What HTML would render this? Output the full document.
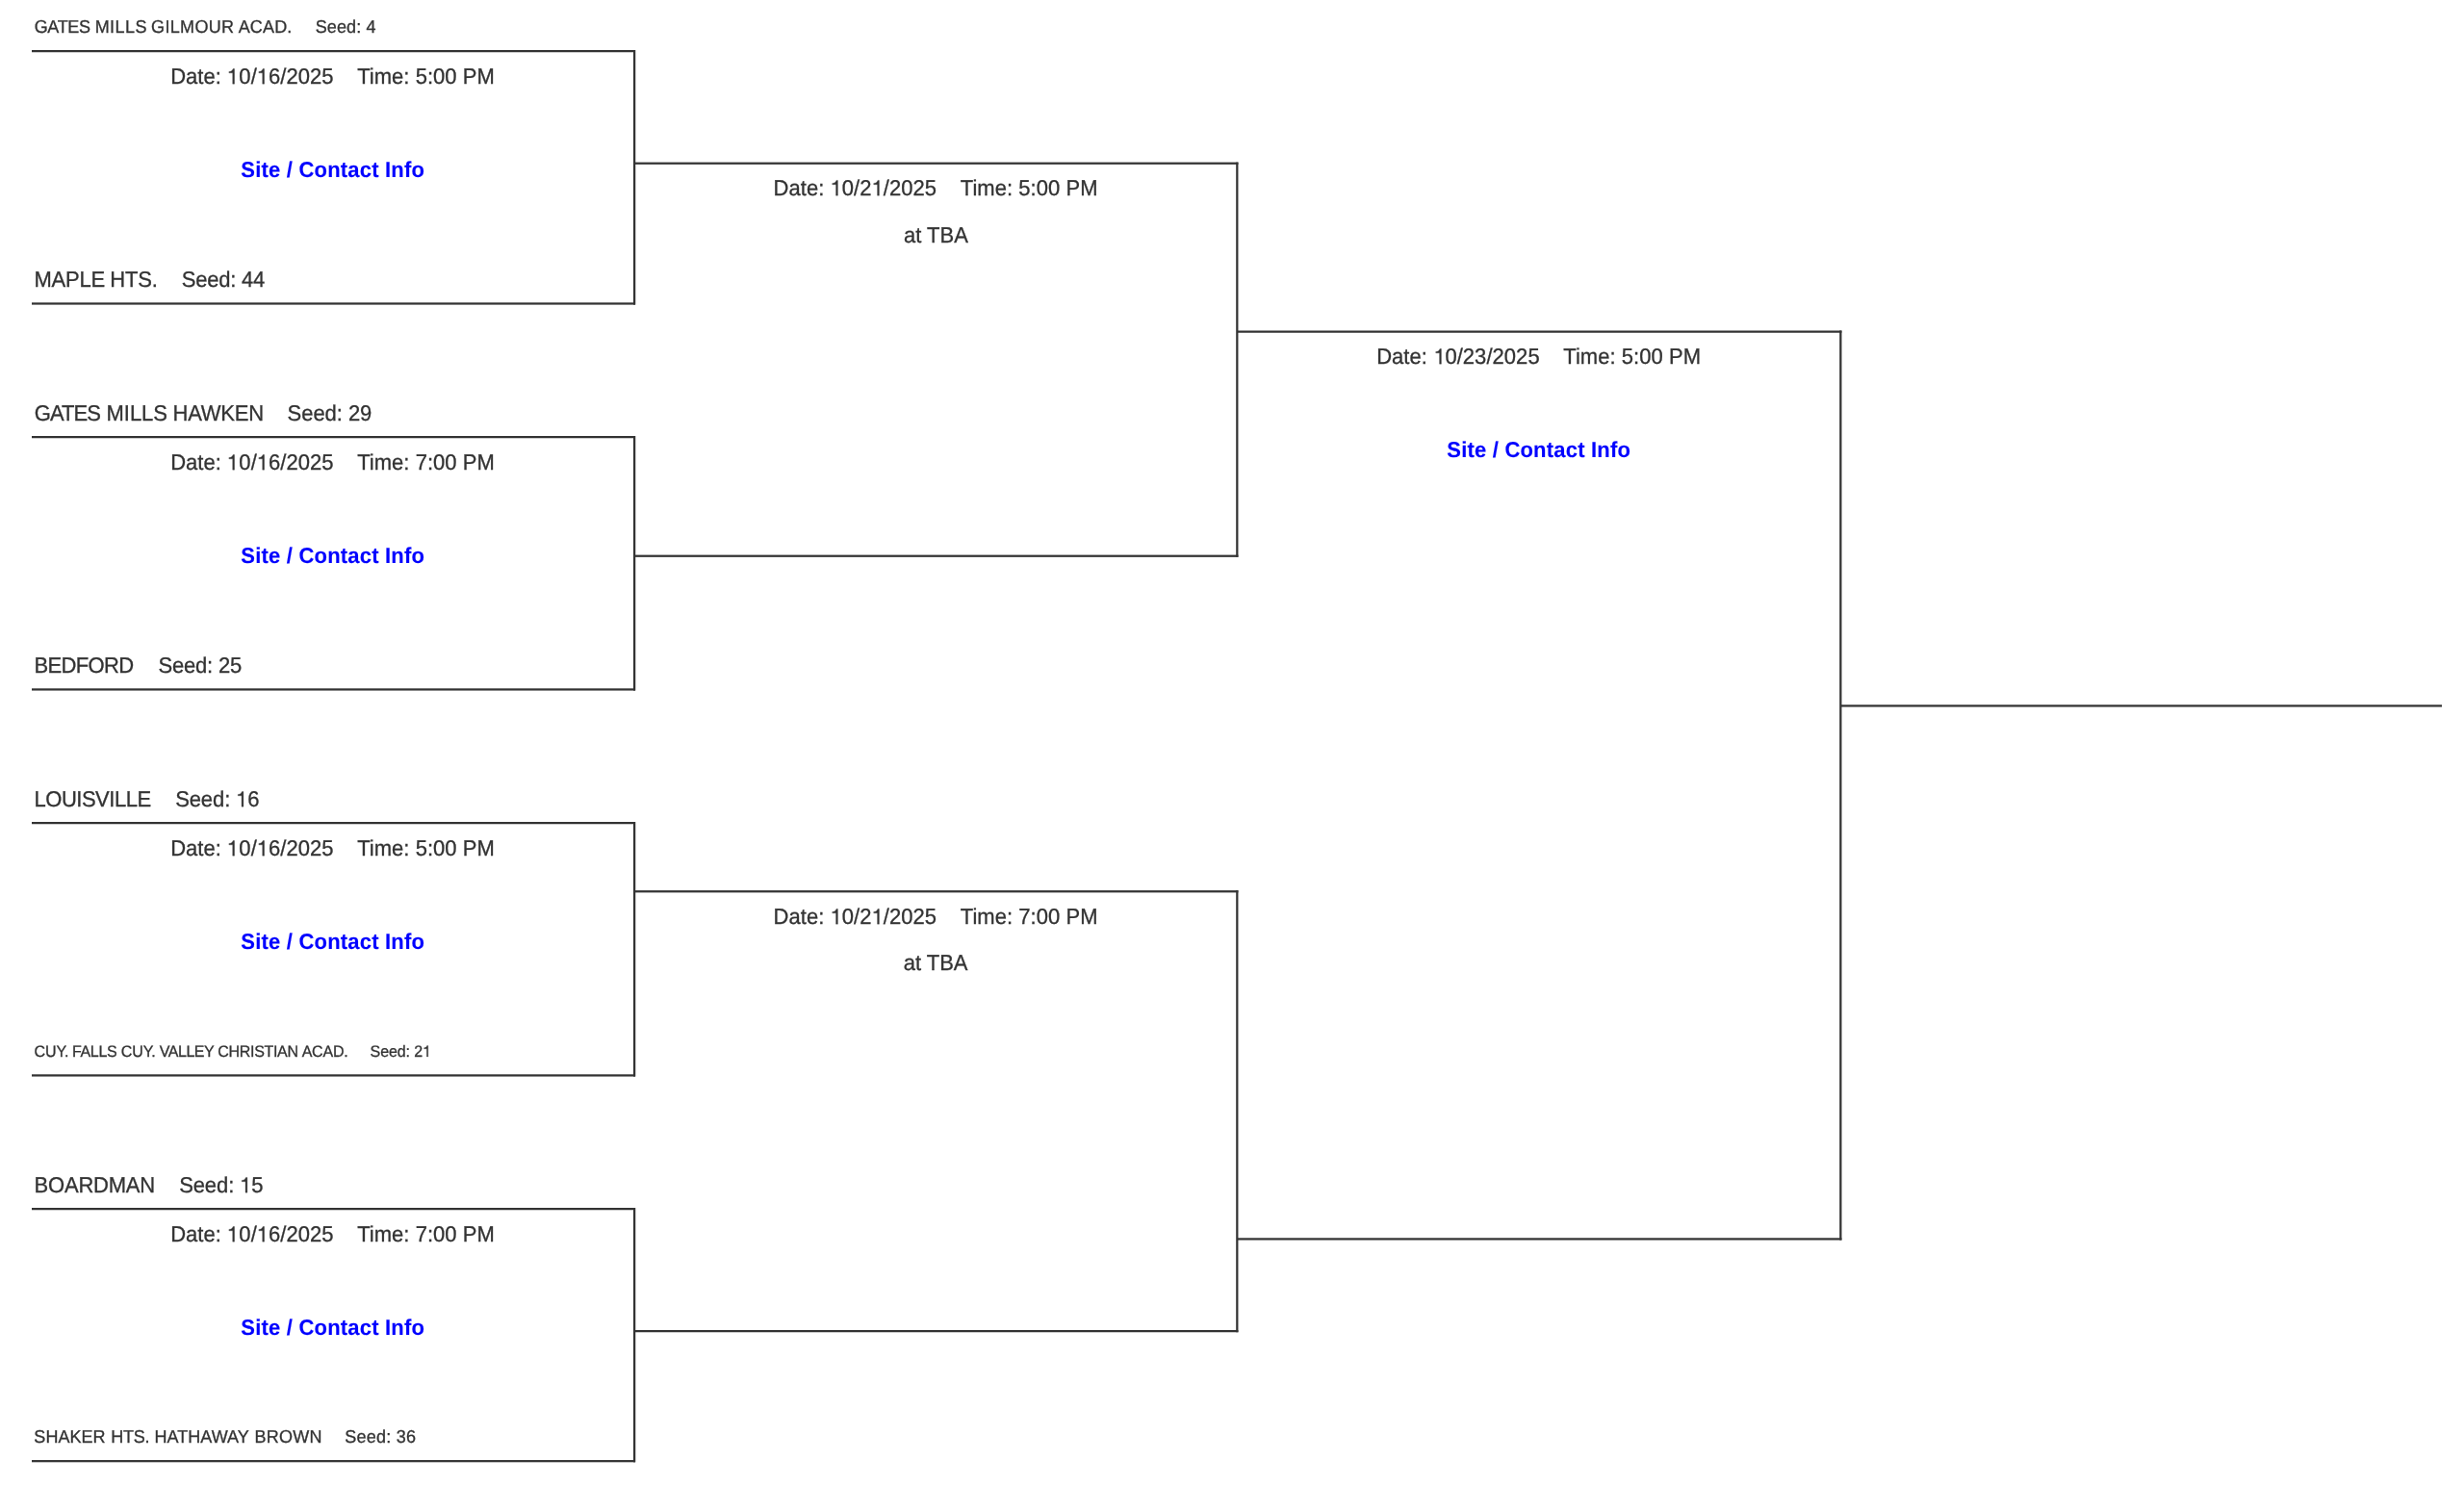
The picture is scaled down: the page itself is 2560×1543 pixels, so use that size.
<!DOCTYPE html>
<html lang="en">
<head>
<meta charset="utf-8">
<title>Tournament Bracket</title>
<style>
html,body{margin:0;padding:0;background:#fff;}
body{width:2560px;height:1543px;position:relative;overflow:hidden;font-family:"Liberation Sans",sans-serif;color:#333;}
svg.l{position:absolute;left:0;top:0;}
#tx{position:absolute;left:0;top:0;width:2560px;height:1543px;will-change:transform;text-rendering:geometricPrecision;-webkit-text-stroke:0.3px currentColor;}
.t{position:absolute;white-space:pre;line-height:0;height:0;transform-origin:0 var(--b);transform:scaleY(1.04);}
.c{transform:translateX(-50%) scaleY(1.04);}
.b{font-weight:bold;color:#0000ff;text-decoration:none;-webkit-text-stroke-width:0.12px;}
.o{display:inline-block;position:relative;color:transparent;}
.o svg{position:absolute;left:0;top:calc(var(--b) - 0.688em);width:0.556em;height:0.688em;overflow:visible;fill:#333;stroke:#333;stroke-width:0.3px;}
.o path{vector-effect:non-scaling-stroke;}
</style>
</head>
<body>
<svg class="l" width="2560" height="1543" viewBox="0 0 2560 1543">
<g fill="#333">
<rect x="33" y="52" width="627" height="2.25"/>
<rect x="658" y="52" width="2.25" height="264.6"/>
<rect x="33" y="314.35" width="627" height="2.25"/>
<rect x="33" y="453" width="627" height="2.25"/>
<rect x="658" y="453" width="2.25" height="264.55"/>
<rect x="33" y="715.3" width="627" height="2.25"/>
<rect x="33" y="854" width="627" height="2.25"/>
<rect x="658" y="854" width="2.25" height="264.55"/>
<rect x="33" y="1116.3" width="627" height="2.25"/>
<rect x="33" y="1255" width="627" height="2.25"/>
<rect x="658" y="1255" width="2.25" height="264.3"/>
<rect x="33" y="1517.05" width="627" height="2.25"/>
<rect x="659" y="168.6" width="627.45" height="2.25"/>
<rect x="1284.2" y="168.6" width="2.25" height="410.25"/>
<rect x="659" y="576.6" width="627.45" height="2.25"/>
<rect x="659" y="925.15" width="627.45" height="2.25"/>
<rect x="1284.2" y="925.15" width="2.25" height="459.1"/>
<rect x="659" y="1382" width="627.45" height="2.25"/>
<rect x="1285.2" y="343.5" width="628.25" height="2.25"/>
<rect x="1911.2" y="343.5" width="2.25" height="945.05"/>
<rect x="1285.2" y="1286.3" width="628.25" height="2.25"/>
<rect x="1912.2" y="732.3" width="624.8" height="2.25"/>
</g>
</svg>
<div id="tx">
<div class="t" id="t0" style="left:35.69px;top:27.51px;font-size:18px;--b:6.49px;"><span class="w" style="letter-spacing:-0.333px">GATES</span><span style="letter-spacing:-0.080px"> </span><span class="w" style="letter-spacing:0.436px">MILLS</span><span style="letter-spacing:-0.726px"> </span><span class="w" style="letter-spacing:0.329px">GILMOUR</span><span style="letter-spacing:-0.727px"> </span><span class="w" style="letter-spacing:0.152px">ACAD.</span></div>
<div class="t" id="t1" style="left:327.65px;top:27.51px;font-size:18px;--b:6.49px;letter-spacing:0.149px;">Seed: 4</div>
<div class="t" id="t2" style="left:35.54px;top:291.13px;font-size:22px;--b:6.87px;"><span class="w" style="letter-spacing:-0.265px">MAPLE</span><span style="letter-spacing:-0.723px"> </span><span class="w" style="letter-spacing:-0.154px">HTS.</span></div>
<div class="t" id="t3" style="left:188.72px;top:291.13px;font-size:22px;--b:6.87px;letter-spacing:-0.215px;">Seed: 44</div>
<div class="t c" id="t4" style="left:345.51px;top:80.13px;font-size:22px;--b:6.87px;letter-spacing:0.034px;">Date: <span class="o">1<svg viewBox="0 0 556 703" preserveAspectRatio="none"><path d="M359 0V703H275V198H101V135C200 128 262 91 293 0Z"/></svg></span>0/<span class="o">1<svg viewBox="0 0 556 703" preserveAspectRatio="none"><path d="M359 0V703H275V198H101V135C200 128 262 91 293 0Z"/></svg></span>6/2025&nbsp;&nbsp;&nbsp;&nbsp;Time: 5:00 PM</div>
<div class="t c" id="t5" style="left:345.75px;top:177.13px;font-size:22px;--b:6.87px;letter-spacing:0.201px;"><a class="b">Site / Contact Info</a></div>
<div class="t" id="t6" style="left:35.73px;top:430.13px;font-size:22px;--b:6.87px;"><span class="w" style="letter-spacing:-0.928px">GATES</span><span style="letter-spacing:0.426px"> </span><span class="w" style="letter-spacing:-0.059px">MILLS</span><span style="letter-spacing:-0.480px"> </span><span class="w" style="letter-spacing:-0.239px">HAWKEN</span></div>
<div class="t" id="t7" style="left:298.59px;top:430.13px;font-size:22px;--b:6.87px;letter-spacing:-0.046px;">Seed: 29</div>
<div class="t" id="t8" style="left:35.59px;top:692.13px;font-size:22px;--b:6.87px;letter-spacing:-0.666px;">BEDFORD</div>
<div class="t" id="t9" style="left:164.42px;top:692.13px;font-size:22px;--b:6.87px;letter-spacing:-0.179px;">Seed: 25</div>
<div class="t c" id="t10" style="left:345.51px;top:481.13px;font-size:22px;--b:6.87px;letter-spacing:0.034px;">Date: <span class="o">1<svg viewBox="0 0 556 703" preserveAspectRatio="none"><path d="M359 0V703H275V198H101V135C200 128 262 91 293 0Z"/></svg></span>0/<span class="o">1<svg viewBox="0 0 556 703" preserveAspectRatio="none"><path d="M359 0V703H275V198H101V135C200 128 262 91 293 0Z"/></svg></span>6/2025&nbsp;&nbsp;&nbsp;&nbsp;Time: 7:00 PM</div>
<div class="t c" id="t11" style="left:345.75px;top:578.13px;font-size:22px;--b:6.87px;letter-spacing:0.201px;"><a class="b">Site / Contact Info</a></div>
<div class="t" id="t12" style="left:35.54px;top:831.13px;font-size:22px;--b:6.87px;letter-spacing:-0.486px;">LOUISVILLE</div>
<div class="t" id="t13" style="left:182.17px;top:831.13px;font-size:22px;--b:6.87px;letter-spacing:-0.096px;">Seed: <span class="o">1<svg viewBox="0 0 556 703" preserveAspectRatio="none"><path d="M359 0V703H275V198H101V135C200 128 262 91 293 0Z"/></svg></span>6</div>
<div class="t" id="t14" style="left:35.43px;top:1094.21px;font-size:16px;--b:3.79px;"><span class="w" style="letter-spacing:-0.021px">CUY.</span><span style="letter-spacing:-0.968px"> </span><span class="w" style="letter-spacing:-0.355px">FALLS</span><span style="letter-spacing:-0.045px"> </span><span class="w" style="letter-spacing:-0.014px">CUY.</span><span style="letter-spacing:-0.394px"> </span><span class="w" style="letter-spacing:-0.500px">VALLEY</span><span style="letter-spacing:-0.285px"> </span><span class="w" style="letter-spacing:-0.323px">CHRISTIAN</span><span style="letter-spacing:-0.457px"> </span><span class="w" style="letter-spacing:-0.204px">ACAD.</span></div>
<div class="t" id="t15" style="left:384.60px;top:1094.21px;font-size:16px;--b:3.79px;letter-spacing:-0.096px;">Seed: 2<span class="o">1<svg viewBox="0 0 556 703" preserveAspectRatio="none"><path d="M359 0V703H275V198H101V135C200 128 262 91 293 0Z"/></svg></span></div>
<div class="t c" id="t16" style="left:345.51px;top:882.13px;font-size:22px;--b:6.87px;letter-spacing:0.034px;">Date: <span class="o">1<svg viewBox="0 0 556 703" preserveAspectRatio="none"><path d="M359 0V703H275V198H101V135C200 128 262 91 293 0Z"/></svg></span>0/<span class="o">1<svg viewBox="0 0 556 703" preserveAspectRatio="none"><path d="M359 0V703H275V198H101V135C200 128 262 91 293 0Z"/></svg></span>6/2025&nbsp;&nbsp;&nbsp;&nbsp;Time: 5:00 PM</div>
<div class="t c" id="t17" style="left:345.75px;top:979.13px;font-size:22px;--b:6.87px;letter-spacing:0.201px;"><a class="b">Site / Contact Info</a></div>
<div class="t" id="t18" style="left:35.59px;top:1232.13px;font-size:22px;--b:6.87px;letter-spacing:-0.212px;">BOARDMAN</div>
<div class="t" id="t19" style="left:186.17px;top:1232.13px;font-size:22px;--b:6.87px;letter-spacing:-0.098px;">Seed: <span class="o">1<svg viewBox="0 0 556 703" preserveAspectRatio="none"><path d="M359 0V703H275V198H101V135C200 128 262 91 293 0Z"/></svg></span>5</div>
<div class="t" id="t20" style="left:35.33px;top:1492.51px;font-size:18px;--b:6.49px;"><span class="w" style="letter-spacing:0.049px">SHAKER</span><span style="letter-spacing:0.478px"> </span><span class="w" style="letter-spacing:-0.180px">HTS.</span><span style="letter-spacing:0.069px"> </span><span class="w" style="letter-spacing:0.048px">HATHAWAY</span><span style="letter-spacing:0.627px"> </span><span class="w" style="letter-spacing:0.241px">BROWN</span></div>
<div class="t" id="t21" style="left:358.15px;top:1492.51px;font-size:18px;--b:6.49px;letter-spacing:0.269px;">Seed: 36</div>
<div class="t c" id="t22" style="left:345.51px;top:1283.13px;font-size:22px;--b:6.87px;letter-spacing:0.034px;">Date: <span class="o">1<svg viewBox="0 0 556 703" preserveAspectRatio="none"><path d="M359 0V703H275V198H101V135C200 128 262 91 293 0Z"/></svg></span>0/<span class="o">1<svg viewBox="0 0 556 703" preserveAspectRatio="none"><path d="M359 0V703H275V198H101V135C200 128 262 91 293 0Z"/></svg></span>6/2025&nbsp;&nbsp;&nbsp;&nbsp;Time: 7:00 PM</div>
<div class="t c" id="t23" style="left:345.75px;top:1380.13px;font-size:22px;--b:6.87px;letter-spacing:0.201px;"><a class="b">Site / Contact Info</a></div>
<div class="t c" id="t24" style="left:972.07px;top:196.13px;font-size:22px;--b:6.87px;letter-spacing:0.044px;">Date: <span class="o">1<svg viewBox="0 0 556 703" preserveAspectRatio="none"><path d="M359 0V703H275V198H101V135C200 128 262 91 293 0Z"/></svg></span>0/2<span class="o">1<svg viewBox="0 0 556 703" preserveAspectRatio="none"><path d="M359 0V703H275V198H101V135C200 128 262 91 293 0Z"/></svg></span>/2025&nbsp;&nbsp;&nbsp;&nbsp;Time: 5:00 PM</div>
<div class="t c" id="t25" style="left:972.42px;top:245.13px;font-size:22px;--b:6.87px;letter-spacing:0.013px;">at TBA</div>
<div class="t c" id="t26" style="left:972.07px;top:953.13px;font-size:22px;--b:6.87px;letter-spacing:0.044px;">Date: <span class="o">1<svg viewBox="0 0 556 703" preserveAspectRatio="none"><path d="M359 0V703H275V198H101V135C200 128 262 91 293 0Z"/></svg></span>0/2<span class="o">1<svg viewBox="0 0 556 703" preserveAspectRatio="none"><path d="M359 0V703H275V198H101V135C200 128 262 91 293 0Z"/></svg></span>/2025&nbsp;&nbsp;&nbsp;&nbsp;Time: 7:00 PM</div>
<div class="t c" id="t27" style="left:972.12px;top:1001.13px;font-size:22px;--b:6.87px;letter-spacing:-0.012px;">at TBA</div>
<div class="t c" id="t28" style="left:1598.62px;top:371.13px;font-size:22px;--b:6.87px;letter-spacing:0.043px;">Date: <span class="o">1<svg viewBox="0 0 556 703" preserveAspectRatio="none"><path d="M359 0V703H275V198H101V135C200 128 262 91 293 0Z"/></svg></span>0/23/2025&nbsp;&nbsp;&nbsp;&nbsp;Time: 5:00 PM</div>
<div class="t c" id="t29" style="left:1598.73px;top:468.13px;font-size:22px;--b:6.87px;letter-spacing:0.201px;"><a class="b">Site / Contact Info</a></div>
</div>
</body>
</html>
